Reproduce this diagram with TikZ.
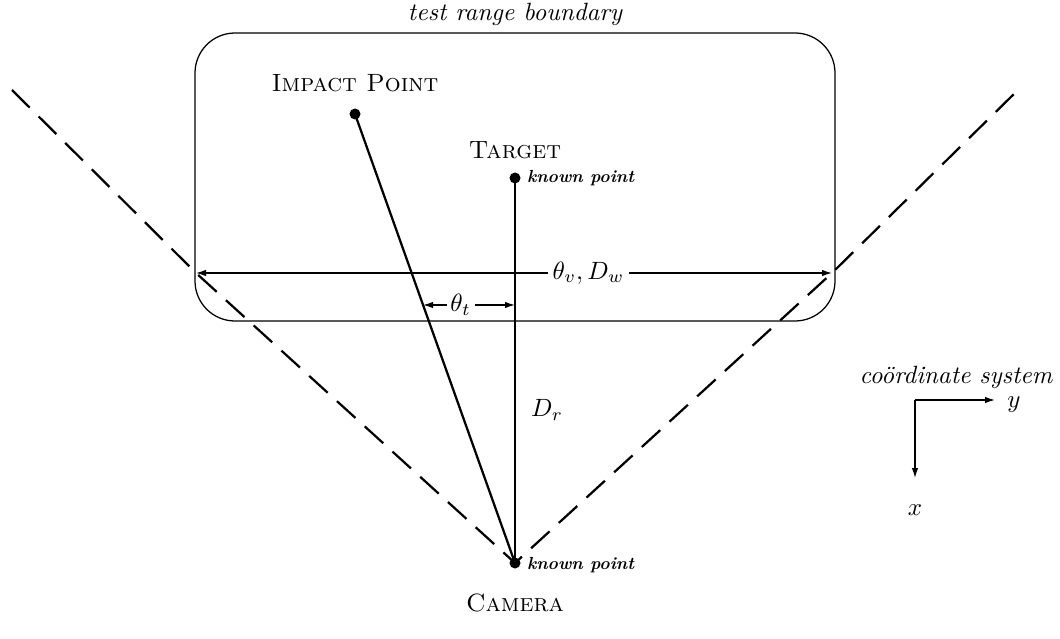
\documentclass[tikz,border=0pt]{standalone}
\usetikzlibrary{arrows.meta,calc}
\begin{document}
\begin{tikzpicture}[x=0.4pt,y=-0.4pt,
    dot/.style={circle,fill,inner sep=0pt,minimum size=4.4pt},
    ray/.style={line width=0.9pt},
    fov/.style={line width=0.9pt,dash pattern=on 10pt off 5pt},
    dim/.style={line width=0.5pt,{Latex[length=4pt,width=2.6pt]}-{Latex[length=4pt,width=2.6pt]}},
    axisarrow/.style={line width=0.5pt,-{Latex[length=4pt,width=2.6pt]}},
    known/.style={font=\scriptsize\bfseries\itshape,anchor=west,inner sep=1pt}]
  \useasboundingbox (0,0) rectangle (1060,639);
  % test range
  \draw[line width=0.5pt, rounded corners=16pt] (195,33) rectangle (835,321);
  \node[font=\itshape] (range) at (515,14) {test range boundary};
  % points
  \node[dot] (impact) at (355,114) {};
  \node[dot] (target) at (515,178) {};
  \node[dot] (camera) at (515,563) {};
  \node (impactlbl) at (355,83) {\textsc{Impact Point}};
  \node (targetlbl) at (515,150) {\textsc{Target}};
  \node (cameralbl) at (515,603) {\textsc{Camera}};
  \node[known] (knownt) at (524,178) {known point};
  \node[known] (knownc) at (524,565) {known point};
  % rays
  \draw[ray] (impact.center) -- (camera.center);
  \draw[ray] (target.center) -- (camera.center);
  % field of view
  \coordinate (fovL) at (12,90);
  \coordinate (fovR) at (1018,90);
  \coordinate (vL) at (196,273);
  \coordinate (vR) at (832,273);
  \draw[fov] (fovL) -- (vL) -- (camera.center) -- (vR) -- (fovR);
  % angles
  \draw[dim] (vL) -- (vR)
        node[pos=0.617, fill=white, inner sep=2pt] (thetav) {$\theta_v, D_w$};
  \coordinate (tL) at ($(impact.center)!{(305-114)/(563-114)}!(camera.center)$);
  \coordinate (tR) at (target |- tL);
  \draw[dim] (tL) -- (tR)
        node[pos=0.41, fill=white, inner sep=1.5pt] (thetat) {$\theta_t$};
  \node (dr) at (547,410) {$D_r$};
  % coordinate system
  \coordinate (origin) at (915,400);
  \coordinate (yend) at (995,400);
  \coordinate (xend) at (915,478);
  \draw[axisarrow] (origin) -- (yend);
  \draw[axisarrow] (origin) -- (xend);
  \node[inner sep=1pt] (ylbl) at (1014,405) {$y$};
  \node (xlbl) at (915,510) {$x$};
  \node[font=\itshape, inner sep=1pt] (coordlbl) at (956,377) {co\"ordinate system};
\end{tikzpicture}
\end{document}
